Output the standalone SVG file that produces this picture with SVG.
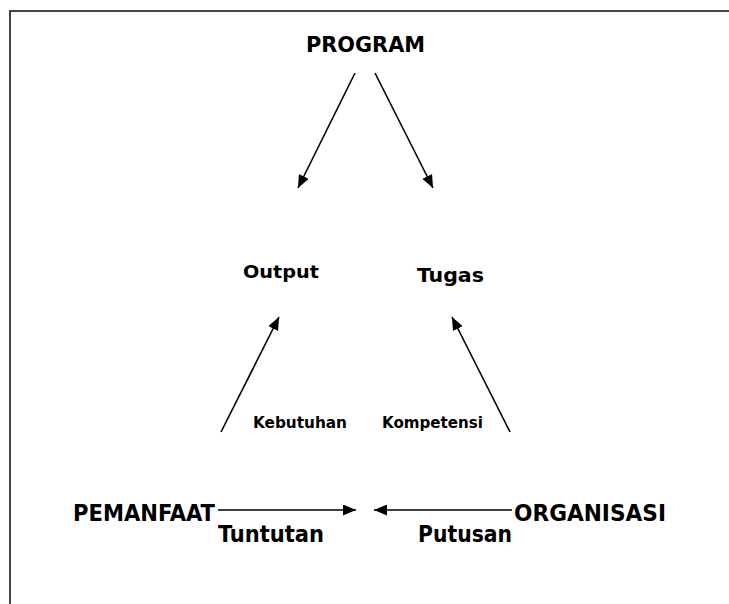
<svg xmlns="http://www.w3.org/2000/svg" width="729" height="604" viewBox="0 0 729 604">
<style>
text{font-family:"DejaVu Sans Condensed","DejaVu Sans",Verdana,sans-serif;font-stretch:condensed;font-weight:bold;fill:#000}
.c{stroke:#000;stroke-width:1.6;fill:none;marker-end:url(#ah)}
</style>
<defs>
<marker id="ah" viewBox="0 0 13 11" refX="13" refY="5.5" markerWidth="13" markerHeight="11" markerUnits="userSpaceOnUse" orient="auto">
<path d="M0,0 L13,5.5 L0,11 Z" fill="#000"/>
</marker>
</defs>
<rect width="729" height="604" fill="#fff"/>
<g id="frame" stroke="#444" stroke-width="2" fill="none">
<path d="M10,604 V11 H729"/>
</g>
<g id="program"><text x="306" y="52" font-size="21" textLength="119" lengthAdjust="spacingAndGlyphs">PROGRAM</text></g>
<g id="output"><text x="243" y="278" font-size="18.5" textLength="76" lengthAdjust="spacingAndGlyphs">Output</text></g>
<g id="tugas"><text x="417" y="282" font-size="19" textLength="67" lengthAdjust="spacingAndGlyphs">Tugas</text></g>
<g id="kebutuhan"><text x="253" y="428" font-size="15.5" textLength="94" lengthAdjust="spacingAndGlyphs">Kebutuhan</text></g>
<g id="kompetensi"><text x="382" y="428" font-size="15.5" textLength="101" lengthAdjust="spacingAndGlyphs">Kompetensi</text></g>
<g id="pemanfaat"><text x="73" y="521" font-size="22.5" textLength="142" lengthAdjust="spacingAndGlyphs">PEMANFAAT</text></g>
<g id="organisasi"><text x="514" y="521" font-size="22.5" textLength="152" lengthAdjust="spacingAndGlyphs">ORGANISASI</text></g>
<g id="tuntutan"><text x="218" y="542" font-size="22.5" textLength="106" lengthAdjust="spacingAndGlyphs">Tuntutan</text></g>
<g id="putusan"><text x="418" y="542" font-size="22.5" textLength="94" lengthAdjust="spacingAndGlyphs">Putusan</text></g>
<g id="connectors">
<line class="c" x1="355" y1="73" x2="298" y2="188"/>
<line class="c" x1="375" y1="73" x2="433" y2="188"/>
<line class="c" x1="221" y1="432" x2="279" y2="317"/>
<line class="c" x1="510" y1="432" x2="452" y2="317"/>
<line class="c" x1="218" y1="510" x2="356" y2="510"/>
<line class="c" x1="512" y1="510" x2="374" y2="510"/>
</g>
</svg>
